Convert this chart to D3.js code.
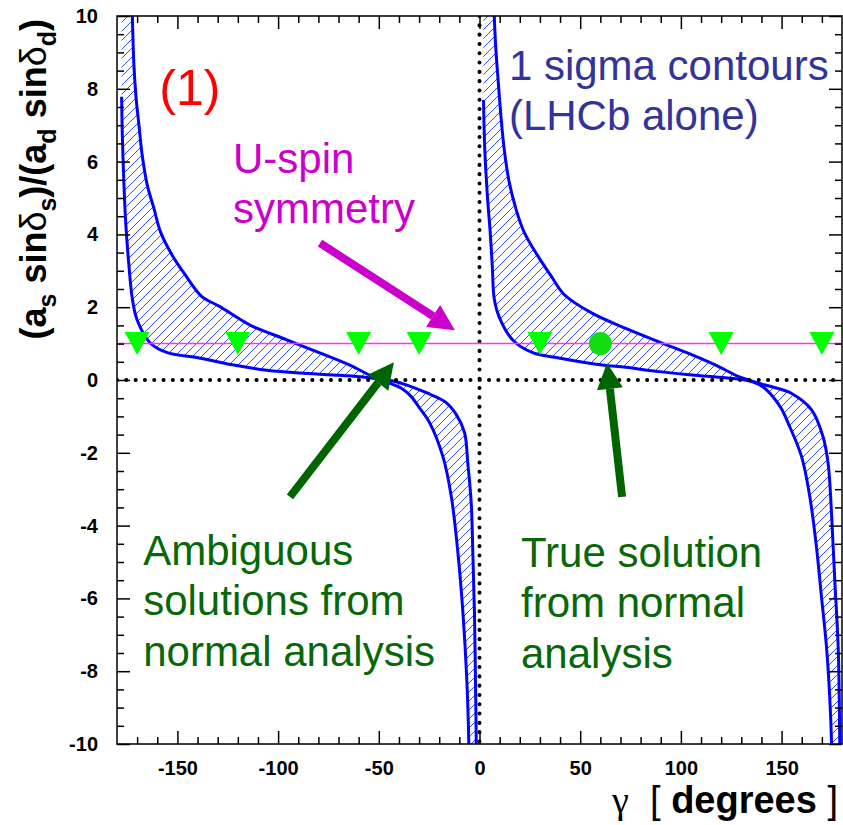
<!DOCTYPE html>
<html>
<head>
<meta charset="utf-8">
<script src="https://cdn.jsdelivr.net/npm/d3@7"></script>
<style>
  body { margin: 0; background: #fff; }
  svg { display: block; }
</style>
</head>
<body>
<svg id="canvas" width="843" height="825"></svg>
<script>
//Datos: [gamma, valor]
const leftUpper = [
  [-178, 20], [-172.4, 10.0], [-171.6, 8.65], [-170.5, 7.74], [-169.1, 7.0],
  [-167.5, 6.18], [-165, 5.36], [-161.7, 4.72], [-158.4, 4.07], [-152.6, 3.43],
  [-146, 2.88], [-138, 2.3], [-128.7, 2.01], [-113.9, 1.51], [-97.4, 1.14],
  [-80.9, 0.78], [-64.4, 0.41], [-52.8, 0.09], [-49, 0.03], [-42, -0.04],
  [-36, -0.14], [-26.4, -0.35], [-17, -0.6], [-11.5, -0.95], [-7.4, -1.45],
  [-5.8, -2.29], [-4.1, -3.39], [-3.3, -4.76], [-2.5, -6.41], [-2.0, -8.24],
  [-1.6, -10], [-1.5, -11]
];
const leftLower = [
  [-177.7, 7.78], [-177.4, 6.82], [-176.6, 5.45], [-175.7, 4.35], [-174.1, 3.16],
  [-172.4, 2.24], [-170, 1.65], [-163.4, 1.01], [-155, 0.75], [-138.6, 0.6],
  [-122, 0.41], [-105.6, 0.27], [-89, 0.19], [-72.6, 0.14], [-59.4, 0.09],
  [-51, 0.03], [-45, -0.08], [-39, -0.22], [-34, -0.45], [-30, -0.75],
  [-25, -1.15], [-18.2, -2.1], [-14, -3.2], [-10.7, -4.76], [-8.2, -6.41],
  [-6.3, -8.24], [-5.3, -9.98], [-5.1, -11]
];
const rightUpper = [
  [1.5, 20], [7.3, 10.03], [8.1, 9.11], [9.3, 8.2], [10.6, 7.28], [12.2, 6.37],
  [14.7, 5.45], [18, 4.72], [22.1, 4.07], [28.7, 3.43], [35.3, 2.88], [42, 2.35],
  [56.1, 1.83], [72.6, 1.42], [89.1, 1.05], [105.6, 0.69], [118.8, 0.37],
  [128.7, 0.09], [133.7, 0.0], [138.6, -0.09], [146, -0.2], [155, -0.37],
  [164.9, -0.82], [170.6, -1.56], [173.1, -2.29], [174.8, -3.66], [176.4, -5.49],
  [178.1, -7.33], [178.9, -10], [179, -11]
];
const rightLower = [
  [2.0, 7.69], [2.6, 6.37], [4.0, 4.99], [5.3, 4.07], [6.4, 3.07], [7.3, 2.24],
  [10, 1.7], [16.5, 1.1], [26.4, 0.75], [40, 0.6], [61, 0.41], [72.6, 0.35],
  [89.1, 0.23], [105.6, 0.14], [122.1, 0.06], [131.8, 0.0], [136, -0.06],
  [141, -0.2], [146, -0.48], [150, -0.8], [153.3, -1.19], [159.9, -2.1],
  [164, -3.2], [167.3, -4.58], [169.8, -5.95], [172.3, -7.33], [173.9, -8.7],
  [174.8, -9.98], [175, -11]
];

const ambiguousGamma = [-170, -120, -60, -30, 30, 120, 170];
const trueGamma = [60];
const uspinLevel = 1;

const xMajor = [-150, -100, -50, 0, 50, 100, 150];
const xMinor = d3.range(-170, 180, 10).filter((d) => d % 50 !== 0);
const yMajor = [-10, -8, -6, -4, -2, 0, 2, 4, 6, 8, 10];
const yMinor = d3.range(-9.5, 10, 0.5).filter((d) => d % 2 !== 0);

//Flechas y textos en coordenadas del grafico
const arrows = [
  { from: [-79.2, 3.76], to: [-12.2, 1.37], color: "#cc00cc" },
  { from: [-94.1, -3.21], to: [-42.5, 0.49], color: "#006400" },
  { from: [70.8, -3.21], to: [63.3, 0.47], color: "#006400" }
];
const notes = [
  { at: [-159, 7.55], lines: ["(1)"], color: "#ff0000", size: 50 },
  { at: [-122.4, 5.69], lines: ["U-spin", "symmetry"], color: "#cc00cc", size: 42 },
  { at: [14.6, 8.24], lines: ["1 sigma contours", "(LHCb alone)"], color: "#333399", size: 42 },
  { at: [-167, -5.08], lines: ["Ambiguous", "solutions from", "normal analysis"], color: "#086808", size: 42 },
  { at: [20.6, -5.14], lines: ["True solution", "from normal", "analysis"], color: "#086808", size: 42 }
];

const pLeft = 117, pRight = 842, pTop = 16, pBottom = 744;
const font = "'Liberation Sans', Arial, sans-serif";

const x = d3.scaleLinear().domain([-180, 180]).range([pLeft, pRight]);
const y = d3.scaleLinear().domain([-10, 10]).range([pBottom, pTop]);

const canvas = d3.select("#canvas");
const defs = canvas.append("defs");

defs.append("clipPath").attr("id", "plot")
  .append("rect")
  .attr("x", pLeft).attr("y", pTop)
  .attr("width", pRight - pLeft).attr("height", pBottom - pTop);

defs.append("pattern")
  .attr("id", "hatch")
  .attr("patternUnits", "userSpaceOnUse")
  .attr("width", 9).attr("height", 9)
  .append("path")
  .attr("d", "M-2,2 L2,-2 M0,9 L9,0 M7,11 L11,7")
  .attr("stroke", "#3050ff")
  .attr("stroke-width", 1);

const line = d3.line()
  .x((d) => x(d[0]))
  .y((d) => y(d[1]))
  .curve(d3.curveCatmullRom.alpha(0.5));

const plot = canvas.append("g").attr("clip-path", "url(#plot)");

const drawBand = (upper, lower) => {
  const d = line(upper) + line(lower.slice().reverse()).replace(/^M/, "L") + "Z";
  plot.append("path").attr("d", d).attr("fill", "url(#hatch)").attr("stroke", "none");
  [upper, lower].forEach((curve) => {
    plot.append("path")
      .attr("d", line(curve))
      .attr("fill", "none")
      .attr("stroke", "#0000ff")
      .attr("stroke-width", 3);
  });
};

drawBand(leftUpper, leftLower);
drawBand(rightUpper, rightLower);

//Lineas punteadas en cero
plot.append("line")
  .attr("class", "zero")
  .attr("x1", pLeft).attr("x2", pRight)
  .attr("y1", y(0)).attr("y2", y(0));
plot.append("line")
  .attr("class", "zero")
  .attr("x1", x(0)).attr("x2", x(0))
  .attr("y1", pTop).attr("y2", pBottom);
plot.selectAll(".zero")
  .attr("stroke", "#000")
  .attr("stroke-width", 4)
  .attr("stroke-linecap", "round")
  .attr("stroke-dasharray", "0.1,9.2");

plot.append("line")
  .attr("x1", pLeft).attr("x2", pRight)
  .attr("y1", y(uspinLevel)).attr("y2", y(uspinLevel))
  .attr("stroke", "#ff33ff")
  .attr("stroke-width", 1.5);

plot.selectAll(".tri")
  .data(ambiguousGamma)
  .enter()
  .append("path")
  .attr("class", "tri")
  .attr("transform", (d) => `translate(${x(d)},${y(uspinLevel)})`)
  .attr("d", "M-12.5,-11.5L12.5,-11.5L0,11.5Z")
  .attr("fill", "#00ff00");

plot.selectAll(".sol")
  .data(trueGamma)
  .enter()
  .append("circle")
  .attr("class", "sol")
  .attr("cx", (d) => x(d))
  .attr("cy", y(uspinLevel))
  .attr("r", 11.5)
  .attr("fill", "#11dd11");

//Ejes
const styleAxis = (g) => {
  g.select(".domain").remove();
  g.selectAll("line").attr("stroke", "#000").attr("stroke-width", 1.5);
  g.selectAll("text")
    .attr("fill", "#000")
    .style("font-family", font)
    .style("font-size", "20px")
    .style("font-weight", "bold");
};
const fmt = (d) => String(d);

canvas.append("g").attr("transform", `translate(0,${pBottom})`)
  .call(d3.axisBottom(x).tickValues(xMajor).tickSizeInner(-13).tickSizeOuter(0).tickPadding(17).tickFormat(fmt))
  .call(styleAxis);
canvas.append("g").attr("transform", `translate(0,${pBottom})`)
  .call(d3.axisBottom(x).tickValues(xMinor).tickSizeInner(-7).tickSizeOuter(0).tickFormat(""))
  .call(styleAxis);
canvas.append("g").attr("transform", `translate(0,${pTop})`)
  .call(d3.axisTop(x).tickValues(xMajor).tickSizeInner(-13).tickSizeOuter(0).tickFormat(""))
  .call(styleAxis);
canvas.append("g").attr("transform", `translate(0,${pTop})`)
  .call(d3.axisTop(x).tickValues(xMinor).tickSizeInner(-7).tickSizeOuter(0).tickFormat(""))
  .call(styleAxis);
canvas.append("g").attr("transform", `translate(${pLeft},0)`)
  .call(d3.axisLeft(y).tickValues(yMajor).tickSizeInner(-13).tickSizeOuter(0).tickPadding(19).tickFormat(fmt))
  .call(styleAxis);
canvas.append("g").attr("transform", `translate(${pLeft},0)`)
  .call(d3.axisLeft(y).tickValues(yMinor).tickSizeInner(-7).tickSizeOuter(0).tickFormat(""))
  .call(styleAxis);
canvas.append("g").attr("transform", `translate(${pRight},0)`)
  .call(d3.axisRight(y).tickValues(yMajor).tickSizeInner(-13).tickSizeOuter(0).tickFormat(""))
  .call(styleAxis);
canvas.append("g").attr("transform", `translate(${pRight},0)`)
  .call(d3.axisRight(y).tickValues(yMinor).tickSizeInner(-7).tickSizeOuter(0).tickFormat(""))
  .call(styleAxis);

canvas.append("rect")
  .attr("x", pLeft).attr("y", pTop)
  .attr("width", pRight - pLeft).attr("height", pBottom - pTop)
  .attr("fill", "none")
  .attr("stroke", "#000")
  .attr("stroke-width", 1.5);

//Titulos de ejes
const xTitle = canvas.append("text")
  .attr("x", pRight - 4)
  .attr("y", 813)
  .attr("text-anchor", "end")
  .style("font-family", font)
  .style("font-size", "38px");
xTitle.append("tspan").style("font-family", "'Liberation Serif', serif").text("γ");
xTitle.append("tspan").attr("xml:space", "preserve").text("  [ ");
xTitle.append("tspan").style("font-weight", "bold").text("degrees");
xTitle.append("tspan").text(" ]");

const yTitle = canvas.append("text")
  .attr("transform", "translate(46,19) rotate(-90)")
  .attr("text-anchor", "end")
  .style("font-family", font)
  .style("font-size", "36px")
  .style("font-weight", "bold");
const yParts = [
  ["(a", 0], ["s", 1], [" sin", -1], ["δ", 0], ["s", 1], [")/(a", -1],
  ["d", 1], [" sin", -1], ["δ", 0], ["d", 1], [")", -1]
];
yParts.forEach(([t, sub]) => {
  const span = yTitle.append("tspan").text(t);
  if (sub === 1) span.attr("dy", 10).style("font-size", "25px");
  if (sub === -1) span.attr("dy", -10);
  if (t === "δ") span.style("font-weight", "normal");
});

//Anotaciones
notes.forEach((n) => {
  const t = canvas.append("text")
    .attr("x", x(n.at[0]))
    .attr("y", y(n.at[1]))
    .attr("fill", n.color)
    .style("font-family", font)
    .style("font-size", n.size + "px");
  n.lines.forEach((l, i) => {
    t.append("tspan")
      .attr("x", x(n.at[0]))
      .attr("dy", i === 0 ? 0 : n.size * 1.2)
      .text(l);
  });
});

arrows.forEach((a) => {
  const x0 = x(a.from[0]), y0 = y(a.from[1]);
  const x1 = x(a.to[0]), y1 = y(a.to[1]);
  const ang = Math.atan2(y1 - y0, x1 - x0);
  const headLen = 26, headW = 13;
  const bx = x1 - headLen * Math.cos(ang), by = y1 - headLen * Math.sin(ang);
  canvas.append("line")
    .attr("x1", x0).attr("y1", y0)
    .attr("x2", bx).attr("y2", by)
    .attr("stroke", a.color)
    .attr("stroke-width", 8);
  const px = -Math.sin(ang), py = Math.cos(ang);
  canvas.append("path")
    .attr("d", `M${x1},${y1}L${bx + headW * px},${by + headW * py}L${bx - headW * px},${by - headW * py}Z`)
    .attr("fill", a.color);
});
</script>
</body>
</html>
